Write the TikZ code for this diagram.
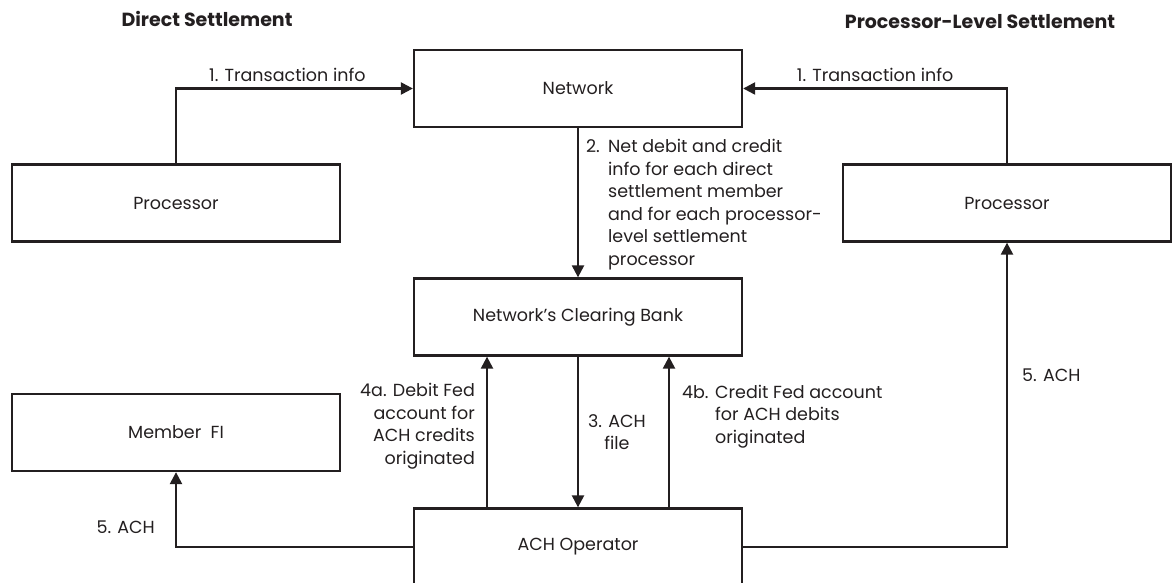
\documentclass[tikz,border=0pt]{standalone}
\usepackage{fontspec}
\setmainfont{Poppins}
\usetikzlibrary{positioning,arrows.meta}
\definecolor{ink}{HTML}{231F20}

\begin{document}
\begin{tikzpicture}[x=1pt,y=1pt,
    box/.style={draw=ink,line width=2.3pt,minimum width=328pt,minimum height=77pt,
      font=\fontsize{17.5}{22.5}\selectfont,text=ink},
    lbl/.style={font=\fontsize{17.5}{22.5}\selectfont,text=ink,inner sep=0pt},
    hd/.style={font=\bfseries\fontsize{19}{22}\selectfont,text=ink},
    flow/.style={draw=ink,line width=2.3pt,-{Triangle[length=12pt,width=12pt]}}]
  \useasboundingbox (0,0) rectangle (1176,-583);

  % --- Headings ---
  \node[hd] (hdDirect) at (207,-19) {Direct Settlement};
  \node[hd] (hdProc) at (980,-22) {Processor-Level Settlement};

  % --- Boxes ---
  \node[box] (net) at (578,-88.5) {Network};
  \node[box] (procL) at (176,-203) {Processor};
  \node[box] (procR) at (1007,-203) {Processor};
  \node[box] (bank) at (578,-317) {Network’s Clearing Bank};
  \node[box] (member) at (176,-432.5) {Member\ \ FI};
  \node[box] (ach) at (578,-547) {ACH Operator};

  % --- Transaction info ---
  \draw[flow] (procL) |- node[lbl,above=6pt,pos=0.735] {1. Transaction info} (net);
  \draw[flow] (procR) |- node[lbl,above=6pt,pos=0.75] {1. Transaction info} (net);

  % --- Settlement info ---
  \draw[flow] (net) -- node[lbl,anchor=north west,pos=0.05,xshift=7pt]
    {\begin{tabular}{@{}p{22pt}@{}l}
      2.&Net debit and credit\\
      &info for each direct\\
      &settlement member\\
      &and for each processor-\\
      &level settlement\\
      &processor
    \end{tabular}} (bank);

  % --- Fed accounts and ACH file ---
  \draw[flow] ([xshift=-91pt]ach.north) -- node[lbl,left=11pt,pos=0.54,align=right]
    {4a. Debit Fed\\account for\\ACH credits\\originated} ([xshift=-91pt]bank.south);
  \draw[flow] (bank) -- node[lbl,right=9pt,align=center] {3. ACH\\file} (ach);
  \draw[flow] ([xshift=91pt]ach.north) -- node[lbl,right=12pt,pos=0.605]
    {\begin{tabular}{@{}p{33pt}@{}l}
      4b.&Credit Fed account\\
      &for ACH debits\\
      &originated
    \end{tabular}} ([xshift=91pt]bank.south);

  % --- ACH entries ---
  \draw[flow] (ach) -| node[lbl,left=20pt,pos=0.63] {5. ACH} (member);
  \draw[flow] (ach) -| node[lbl,right=14pt,pos=0.782] {5. ACH} (procR);
\end{tikzpicture}
\end{document}
